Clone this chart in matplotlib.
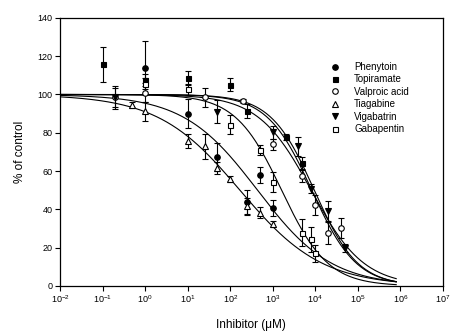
import numpy as np
import matplotlib
matplotlib.use("Agg")
import matplotlib.pyplot as plt
from matplotlib.ticker import NullLocator, FixedLocator

plt.rcParams['font.family'] = ['Liberation Sans', 'DejaVu Sans']
plt.rcParams['mathtext.fontset'] = 'custom'
plt.rcParams['mathtext.rm'] = 'Liberation Sans'
plt.rcParams['mathtext.it'] = 'Liberation Sans'

# ---- data ----
phen_x = [1, 10, 50, 250, 500, 1000]
phen_y = [114, 90, 67.3, 43.8, 58, 40.7]
phen_e = [14, 7.5, 7.5, 6.5, 4, 4]

topi_x = [0.1, 1, 10, 100, 250, 2000, 5000]
topi_y = [115.7, 107.5, 108.5, 105.2, 91.3, 77.9, 64.3]
topi_e = [9.3, 3, 3.5, 3.5, 3.5, 1.5, 3]

valp_x = [0.2, 1, 25, 200, 1000, 5000, 10000, 20000, 40000]
valp_y = [98.5, 101, 98.5, 96.5, 74, 57.5, 42.3, 27.8, 30.3]
valp_e = [5, 5, 5, 1, 3, 3, 5, 6, 5]

tiag_x = [0.5, 1, 10, 25, 50, 100, 250, 500, 1000]
tiag_y = [94.6, 91.3, 75.7, 73, 61.7, 55.7, 41.7, 38.3, 32.2]
tiag_e = [1.5, 5, 3.5, 6.5, 3, 1.5, 4, 3, 1.5]

viga_x = [0.2, 50, 1000, 4000, 8000, 20000, 50000]
viga_y = [98.5, 91, 80.3, 73, 50.8, 39.1, 20]
viga_e = [6, 6, 3.5, 5, 2.5, 5.5, 2]

gaba_x = [1, 10, 100, 500, 1000, 5000, 8000, 10000]
gaba_y = [105.6, 102.6, 84.3, 71, 54.3, 27.8, 24.3, 17]
gaba_e = [3, 3, 5, 2.5, 5, 7, 6.5, 4.5]

# fitted curve parameters (IC50 in uM, Hill slope)
names = ['Phenytoin', 'Topiramate', 'Valproic acid', 'Tiagabine', 'Vigabatrin', 'Gabapentin']
ic50 = [440, 8300, 8000, 170, 9500, 1620]
hill = [0.5, 0.83, 0.7, 0.45, 0.85, 0.8]

series = [
    (phen_x, phen_y, phen_e, 'o', 'black'),
    (topi_x, topi_y, topi_e, 's', 'black'),
    (valp_x, valp_y, valp_e, 'o', 'white'),
    (tiag_x, tiag_y, tiag_e, '^', 'white'),
    (viga_x, viga_y, viga_e, 'v', 'black'),
    (gaba_x, gaba_y, gaba_e, 's', 'white'),
]

fig = plt.figure(figsize=(4.51, 3.31), dpi=100)
ax = fig.add_axes([0.133, 0.136, 0.849, 0.81])

xc = np.logspace(-2, np.log10(8e5), 400)
for c, h in zip(ic50, hill):
    yc = 100.0 / (1.0 + (xc / c) ** h)
    ax.plot(xc, yc, color='black', lw=0.8, zorder=2)

handles = []
for (x, y, e, m, fc), name in zip(series, names):
    ms = 4.0 if m in ('o', '^', 'v') else 3.6
    ax.errorbar(x, y, yerr=e, fmt='none', ecolor='black', elinewidth=0.8,
                capsize=2.0, capthick=0.8, zorder=3)
    hdl, = ax.plot(x, y, linestyle='none', marker=m, markersize=ms,
                   markerfacecolor=fc, markeredgecolor='black',
                   markeredgewidth=0.8, zorder=4, label=name)
    handles.append(hdl)

ax.set_xscale('log')
ax.set_xlim(1e-2, 1e7)
ax.set_ylim(0, 140)
ax.xaxis.set_major_locator(FixedLocator([10.0 ** k for k in range(-2, 8)]))
ax.xaxis.set_minor_locator(NullLocator())
ax.set_yticks(range(0, 141, 20))
ax.tick_params(direction='out', length=3.5, width=0.8, labelsize=6.5, pad=2)
for s in ax.spines.values():
    s.set_linewidth(0.9)

ax.set_xlabel('Inhibitor (\u03bcM)', fontsize=8.5, labelpad=10)
ax.set_ylabel('% of control', fontsize=8.5, labelpad=8)

ax.legend(handles=handles, loc='upper left', bbox_to_anchor=(0.695, 0.85),
          frameon=False, fontsize=7, labelspacing=0.25, handletextpad=1.5,
          handlelength=1.0, borderaxespad=0)

fig.savefig('out.png', dpi=100)
